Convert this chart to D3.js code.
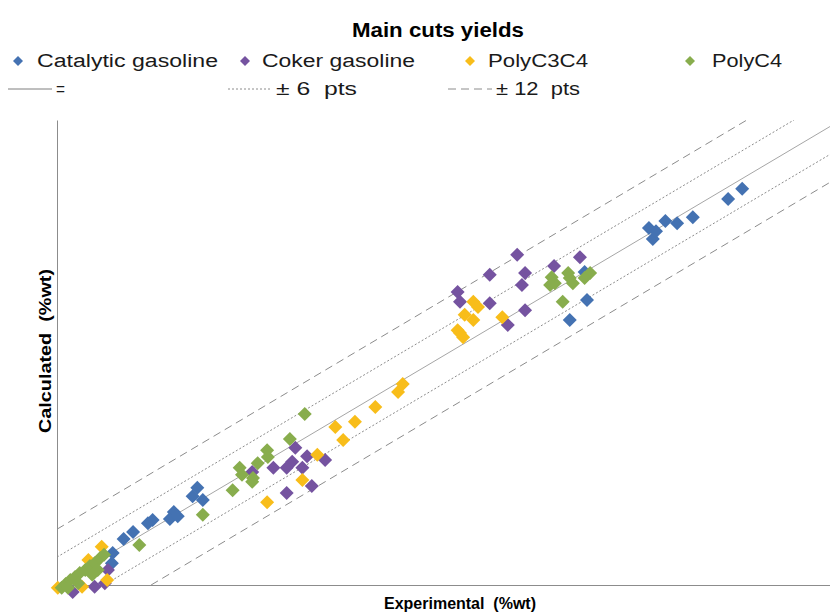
<!DOCTYPE html>
<html>
<head>
<meta charset="utf-8">
<script src="https://cdnjs.cloudflare.com/ajax/libs/d3/7.8.5/d3.min.js"></script>
<style>
    body { margin: 0; background: #fff; }
    text { font-family: "Liberation Sans", Arial, sans-serif; }
</style>
</head>
<body>
<div id="chart_yields"></div>
<script>
// experimental (x) / calculated (y) yields, %wt
var catalytic_x = [87.4, 85.6, 81.1, 79.1, 77.6, 75.5, 76.0, 76.4, 67.6, 65.4, 67.3, 17.9, 17.3, 18.6, 14.9, 14.4, 15.4, 12.2, 11.6, 9.7, 8.5, 7.1, 7.0];
var catalytic_y = [85.2, 83.0, 79.1, 77.8, 78.3, 76.8, 74.4, 76.1, 61.3, 57.0, 67.3, 20.9, 19.1, 18.3, 15.7, 14.2, 14.8, 14.0, 13.3, 11.4, 9.9, 6.9, 4.7];

var coker_x = [58.7, 55.2, 59.7, 59.3, 51.1, 51.4, 55.2, 59.7, 57.5, 66.7, 63.4, 30.4, 31.9, 34.2, 30.0, 29.3, 27.6, 31.3, 24.9, 32.5, 29.3, 6.5, 6.1, 4.8, 2.0];
var coker_y = [71.0, 66.7, 67.1, 64.5, 63.0, 60.9, 60.6, 59.1, 55.9, 70.5, 68.6, 29.5, 27.7, 26.9, 26.5, 25.2, 25.2, 25.2, 24.3, 21.3, 19.8, 3.2, 0.4, -0.4, -1.5];

var polyc3c4_x = [53.1, 53.7, 52.0, 53.1, 56.8, 51.1, 51.8, 51.4, 44.1, 43.5, 40.6, 38.0, 35.5, 36.5, 33.2, 31.3, 26.8, 5.7, 6.4, 4.0, 0.1, 3.2];
var polyc3c4_y = [60.9, 59.8, 58.1, 57.0, 57.6, 54.8, 53.3, 54.2, 43.2, 41.5, 38.3, 35.1, 34.0, 31.2, 28.0, 22.6, 17.8, 8.2, 1.1, 5.4, -0.6, -0.4];

var polyc4_x = [63.5, 63.1, 65.2, 65.8, 68.0, 67.3, 65.4, 64.5, 62.9, 31.6, 29.7, 26.8, 26.9, 25.6, 23.3, 23.6, 25.0, 24.9, 22.4, 18.6, 10.5, 0.6, 1.1, 1.7, 2.3, 2.9, 3.6, 4.2, 4.8, 5.5, 6.0, 4.5, 2.7, 5.2, 1.4];
var polyc4_y = [64.9, 66.2, 67.1, 64.9, 67.1, 66.0, 66.0, 60.9, 64.5, 36.8, 31.4, 29.0, 27.5, 26.2, 25.2, 23.7, 23.0, 22.2, 20.4, 15.1, 8.6, -0.6, 0.2, 1.1, 1.7, 2.6, 3.2, 4.1, 4.7, 5.8, 6.5, 2.2, 0.4, 3.2, -0.6];

var series_names = ["Catalytic gasoline", "Coker gasoline", "PolyC3C4", "PolyC4"];
var series_colours = ["#4472b2", "#7553a0", "#f8bd1a", "#88ad4d"];

// y = x, +-6 and +-12 pts reference lines
var ref_offsets = [0, 6, -6, 12, -12];
var ref_names = ["=", "\u00b1 6  pts", "\u00b1 12  pts"];

var axis_min = 0, axis_max = 100;

function draw_yields_chart() {
    var W = 830, H = 612;
    var svg = d3.select("#chart_yields").append("svg").attr("width", W).attr("height", H);

    var x = d3.scaleLinear().domain([axis_min, axis_max]).range([57, 841]);
    var y = d3.scaleLinear().domain([axis_min, axis_max]).range([585, 120]);

    svg.append("clipPath").attr("id", "plot_clip")
        .append("rect").attr("x", x(0)).attr("y", y(100)).attr("width", x(100) - x(0)).attr("height", y(0) - y(100));

    var dash_for = function (k) {
        if (k === 0) return null;
        return Math.abs(k) === 6 ? "2,2" : "8,5";
    };

    // reference lines
    var g_ref = svg.append("g").attr("clip-path", "url(#plot_clip)");
    ref_offsets.forEach(function (k) {
        var x0 = Math.max(axis_min, axis_min - k), x1 = Math.min(axis_max, axis_max - k);
        g_ref.append("line")
            .attr("x1", x(x0)).attr("y1", y(x0 + k))
            .attr("x2", x(x1)).attr("y2", y(x1 + k))
            .attr("stroke", k === 0 ? "#a6a6a6" : "#8c8c8c")
            .attr("stroke-width", 1)
            .attr("stroke-dasharray", dash_for(k));
    });

    // axes, no ticks
    var axis_x = d3.axisBottom(x).tickValues([]).tickSizeOuter(0);
    var axis_y = d3.axisLeft(y).tickValues([]).tickSizeOuter(0);
    svg.append("g").attr("transform", "translate(0," + y(0) + ")").call(axis_x)
        .select(".domain").attr("stroke", "#8c8c8c");
    svg.append("g").attr("transform", "translate(" + x(0) + ",0)").call(axis_y)
        .select(".domain").attr("stroke", "#8c8c8c");

    // points
    var all_x = [catalytic_x, coker_x, polyc3c4_x, polyc4_x];
    var all_y = [catalytic_y, coker_y, polyc3c4_y, polyc4_y];
    var diamond = d3.symbol().type(d3.symbolSquare).size(98);

    all_x.forEach(function (xs, s) {
        var pts = xs.map(function (v, i) { return [v, all_y[s][i]]; });
        svg.append("g").selectAll("path").data(pts).enter().append("path")
            .attr("d", diamond)
            .attr("transform", function (d) {
                return "translate(" + x(d[0]) + "," + y(d[1]) + ") rotate(45)";
            })
            .attr("fill", series_colours[s]);
    });

    // title
    svg.append("text").attr("x", 352).attr("y", 37)
        .attr("font-size", 20).attr("font-weight", "bold").attr("fill", "#000")
        .attr("textLength", 172).attr("lengthAdjust", "spacingAndGlyphs")
        .text("Main cuts yields");

    // legend row 1
    var leg_mark_x = [18, 245, 470, 690];
    var leg_text_x = [37, 262, 488, 712];
    var leg_text_w = [181, 153, 100, 70];
    var legend_diamond = d3.symbol().type(d3.symbolSquare).size(50);
    series_names.forEach(function (n, i) {
        svg.append("path").attr("d", legend_diamond)
            .attr("transform", "translate(" + leg_mark_x[i] + ",61) rotate(45)")
            .attr("fill", series_colours[i]);
        svg.append("text").attr("x", leg_text_x[i]).attr("y", 67)
            .attr("font-size", 18).attr("fill", "#1a1a1a")
            .attr("textLength", leg_text_w[i]).attr("lengthAdjust", "spacingAndGlyphs")
            .text(n);
    });

    // legend row 2
    var leg_line_x = [8, 228, 448];
    var leg_line_k = [0, 6, 12];
    var leg2_text_w = [9, 81, 84];
    ref_names.forEach(function (n, i) {
        svg.append("line")
            .attr("x1", leg_line_x[i]).attr("x2", leg_line_x[i] + 44)
            .attr("y1", 89).attr("y2", 89)
            .attr("stroke", i === 0 ? "#7f7f7f" : "#8c8c8c")
            .attr("stroke-dasharray", dash_for(leg_line_k[i]));
        svg.append("text").attr("x", leg_line_x[i] + 48).attr("y", 95)
            .attr("font-size", 18).attr("fill", "#1a1a1a")
            .attr("textLength", leg2_text_w[i]).attr("lengthAdjust", "spacingAndGlyphs")
            .style("white-space", "pre").text(n);
    });

    // axis titles
    svg.append("text").attr("x", 384).attr("y", 609)
        .attr("font-size", 16).attr("font-weight", "bold").style("white-space", "pre")
        .attr("textLength", 152).attr("lengthAdjust", "spacingAndGlyphs")
        .text("Experimental  (%wt)");
    svg.append("text").attr("transform", "translate(51,433) rotate(-90)")
        .attr("font-size", 16).attr("font-weight", "bold").style("white-space", "pre")
        .attr("textLength", 164).attr("lengthAdjust", "spacingAndGlyphs")
        .text("Calculated  (%wt)");
}

draw_yields_chart();
</script>
</body>
</html>
